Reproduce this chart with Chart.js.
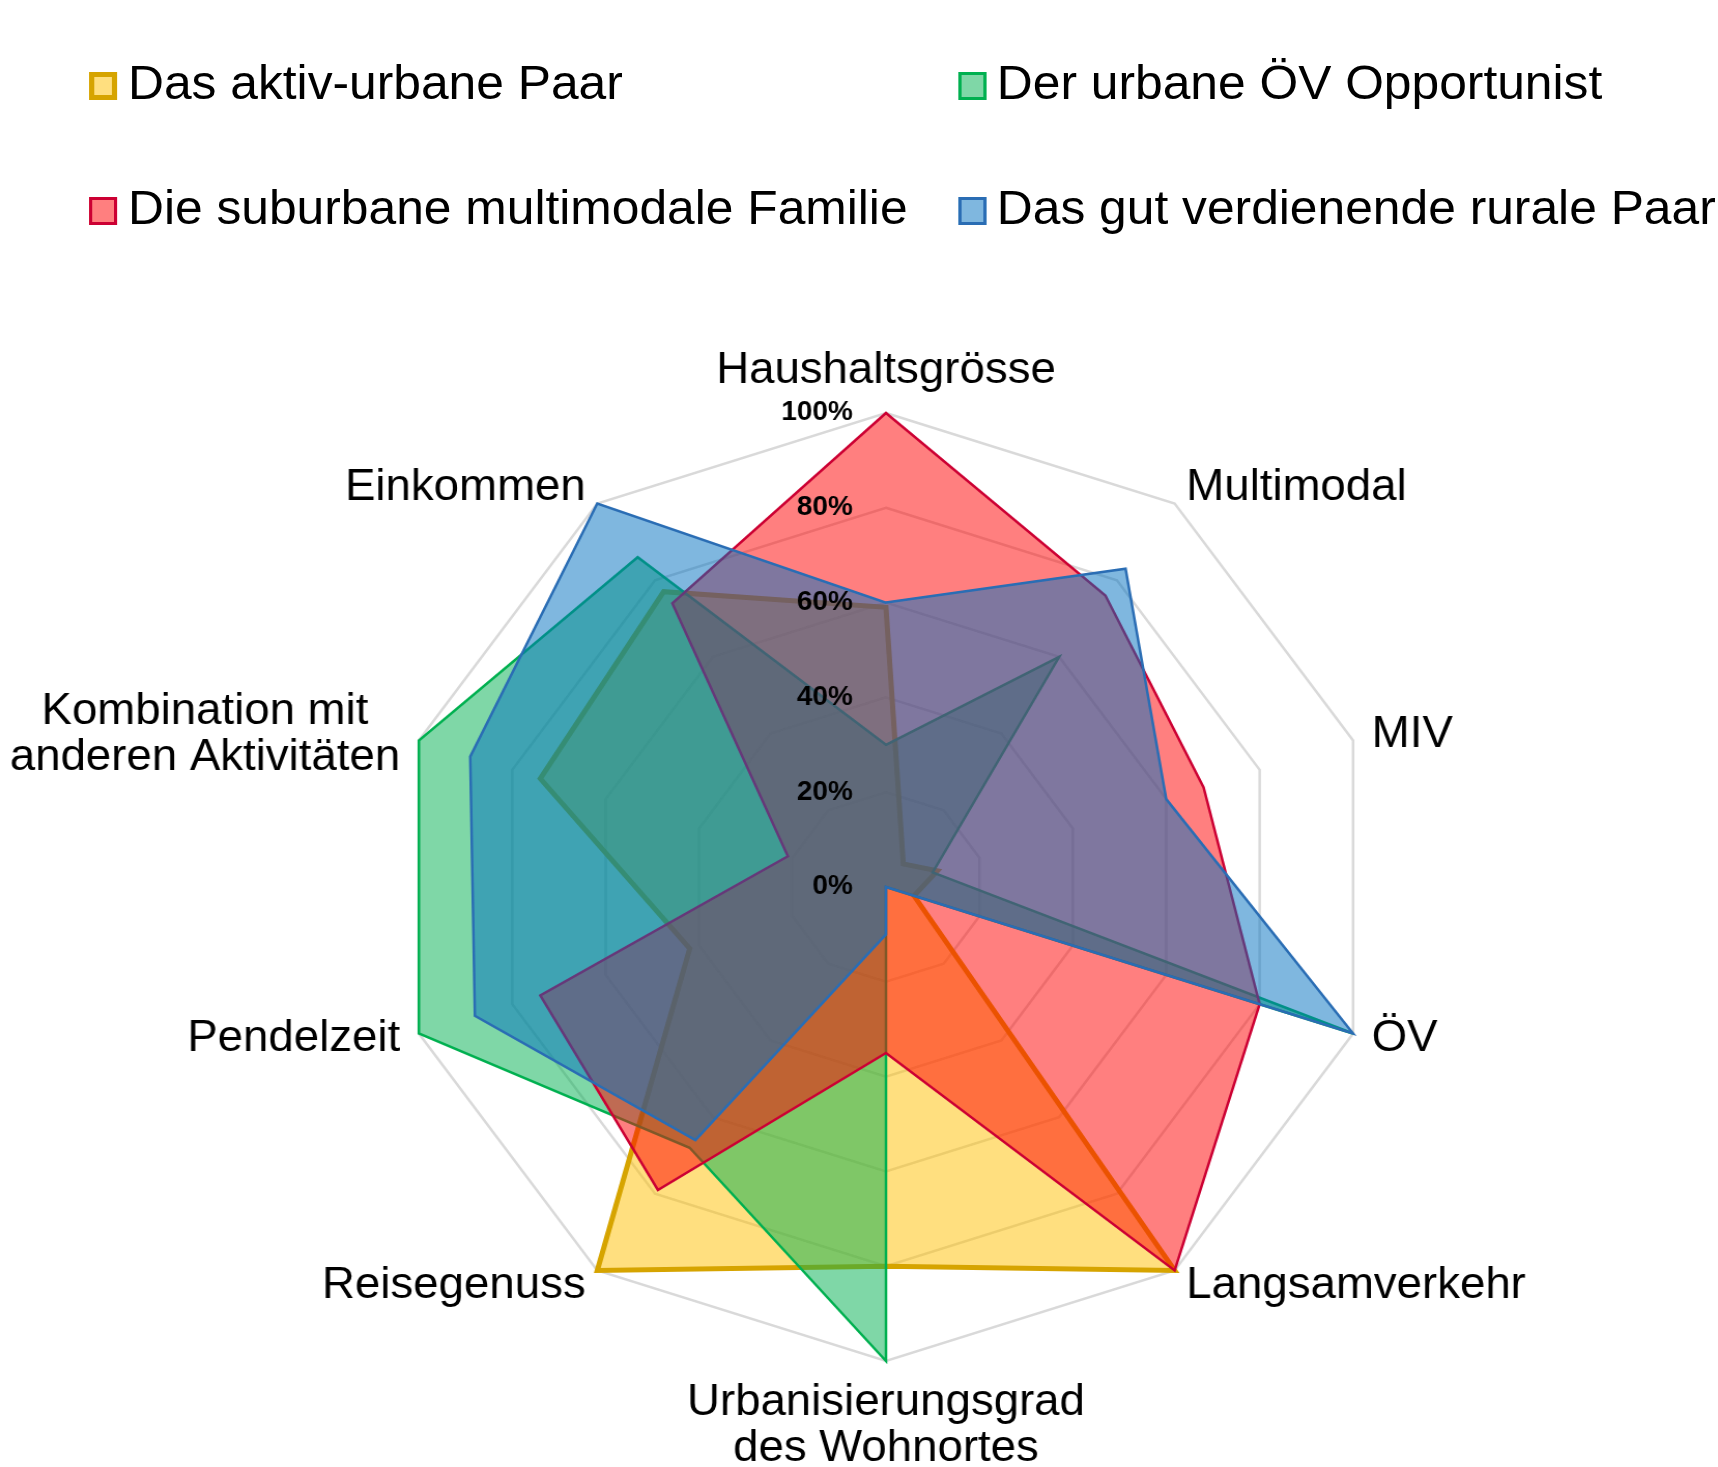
<!DOCTYPE html>
<html>
<head>
<meta charset="utf-8">
<title>Mobilitätstypen</title>
<script src="https://cdn.jsdelivr.net/npm/chart.js@4.4.1/dist/chart.umd.min.js"></script>
<style>
  body { margin: 0; background: #fff; overflow: hidden; }
  #wrap {
    position: absolute; left: 0; top: 0;
    width: 1658px; height: 1467px;
    transform: scaleX(1.0362); transform-origin: 0 0;
  }
  #legend { position: absolute; left: 0; top: 0; width: 100%; height: 260px; }
  .lg-box { position: absolute; box-sizing: border-box; width: 27px; height: 28px; }
  .lg-text {
    position: absolute; white-space: nowrap;
    font-family: "Liberation Sans", Arial, sans-serif;
    font-size: 48px; line-height: 48px; color: #000;
  }
  #chart { position: absolute; left: 0; top: 0; }
</style>
</head>
<body>
<div id="wrap">
  <div id="legend"></div>
  <canvas id="chart" width="1658" height="1467"></canvas>
</div>
<script>
// axes, clockwise from the top
var categories = ['Haushaltsgrösse', 'Multimodal', 'MIV', 'ÖV', 'Langsamverkehr',
  ['Urbanisierungsgrad', 'des Wohnortes'], 'Reisegenuss', 'Pendelzeit',
  ['Kombination mit', 'anderen Aktivitäten'], 'Einkommen'];

var seriesNames = ['Das aktiv-urbane Paar', 'Der urbane ÖV Opportunist',
  'Die suburbane multimodale Familie', 'Das gut verdienende rurale Paar'];

// values in percent
var aktivUrbanesPaar      = [59, 6, 11, 6, 100, 80, 100, 42, 74, 77];
var urbanerOevOpportunist = [30, 60, 10, 100, 0, 100, 68, 100, 100, 86];
var suburbaneFamilie      = [100, 76, 68, 80, 100, 35, 79, 74, 21, 74];
var ruralesPaar           = [60, 83, 60, 100, 0, 10, 66, 88, 89, 100];

var tickValues = [0, 20, 40, 60, 80, 100];

// styles
var fillColors   = ['rgba(255,192,0,0.5)', 'rgba(0,176,80,0.5)', 'rgba(255,0,0,0.5)', 'rgba(0,112,192,0.5)'];
var borderColors = ['#d6a400', '#00b050', '#cc0033', '#2a6db4'];
var borderWidths = [5, 2.5, 2.5, 2.5];
var drawOrder    = [4, 3, 2, 1]; // first series at the bottom

var seriesValues = [aktivUrbanesPaar, urbanerOevOpportunist, suburbaneFamilie, ruralesPaar];

// legend, two columns
var legend = document.getElementById('legend');
var colX = [[86, 123.5], [924.5, 962]];
var rowY = [[72, 59.4], [197, 184.4]];
seriesNames.forEach(function(name, i) {
  var col = colX[i % 2], row = rowY[Math.floor(i / 2)];
  var box = document.createElement('div');
  box.className = 'lg-box';
  box.style.left = col[0] + 'px';
  box.style.top = row[0] + 'px';
  box.style.background = fillColors[i];
  box.style.border = (i === 0 ? 5 : 3) + 'px solid ' + borderColors[i];
  legend.appendChild(box);
  var txt = document.createElement('div');
  txt.className = 'lg-text';
  txt.style.left = col[1] + 'px';
  txt.style.top = row[1] + 'px';
  txt.textContent = name;
  legend.appendChild(txt);
});

var textPlugin = {
  id: 'radarText',
  afterDatasetsDraw: function(chart) {
    var scale = chart.scales.r;
    var ctx = chart.ctx;
    ctx.save();
    ctx.fillStyle = '#000';

    // percent ticks, left of the vertical axis
    ctx.font = 'bold 27px "Liberation Sans", Arial, sans-serif';
    ctx.textAlign = 'right';
    ctx.textBaseline = 'middle';
    tickValues.forEach(function(v) {
      var y = scale.yCenter - scale.getDistanceFromCenterForValue(v);
      ctx.fillText(v + '%', scale.xCenter - 32, y);
    });

    // axis names
    ctx.font = '44px "Liberation Sans", Arial, sans-serif';
    ctx.textAlign = 'center';
    var lineH = 46;
    categories.forEach(function(label, i) {
      var lines = Array.isArray(label) ? label : [label];
      var p = scale.getPointPosition(i, scale.drawingArea + 19);
      var deg = Math.round(i * 360 / categories.length);
      var w = Math.max.apply(null, lines.map(function(l) { return ctx.measureText(l).width; }));
      var h = lines.length * lineH;
      var cx, top;
      if (deg === 0) { cx = p.x; top = p.y - h; }
      else if (deg === 180) { cx = p.x; top = p.y; }
      else if (deg < 180) { cx = p.x + w / 2; top = p.y - h / 2; }
      else { cx = p.x - w / 2; top = p.y - h / 2; }
      lines.forEach(function(l, k) {
        ctx.fillText(l, cx, top + lineH * (k + 0.5));
      });
    });
    ctx.restore();
  }
};

var ctx = document.getElementById('chart').getContext('2d');
var myChart = new Chart(ctx, {
  type: 'radar',
  data: {
    labels: categories,
    datasets: seriesValues.map(function(vals, i) {
      return {
        label: seriesNames[i],
        data: vals,
        order: drawOrder[i],
        backgroundColor: fillColors[i],
        borderColor: borderColors[i],
        borderWidth: borderWidths[i],
        fill: true,
        tension: 0,
        pointRadius: 0,
        pointHoverRadius: 0
      };
    })
  },
  options: {
    responsive: false,
    animation: false,
    devicePixelRatio: 1,
    layout: { padding: { left: 381, right: 329, top: 413, bottom: 106 } },
    plugins: {
      legend: { display: false },
      tooltip: { enabled: false }
    },
    elements: { line: { borderJoinStyle: 'miter' } },
    scales: {
      r: {
        min: 0,
        max: 100,
        ticks: { display: false, stepSize: 20 },
        grid: { color: '#d9d9d9', lineWidth: 2.5 },
        angleLines: { display: false },
        pointLabels: { display: false }
      }
    }
  },
  plugins: [textPlugin]
});
</script>
</body>
</html>
